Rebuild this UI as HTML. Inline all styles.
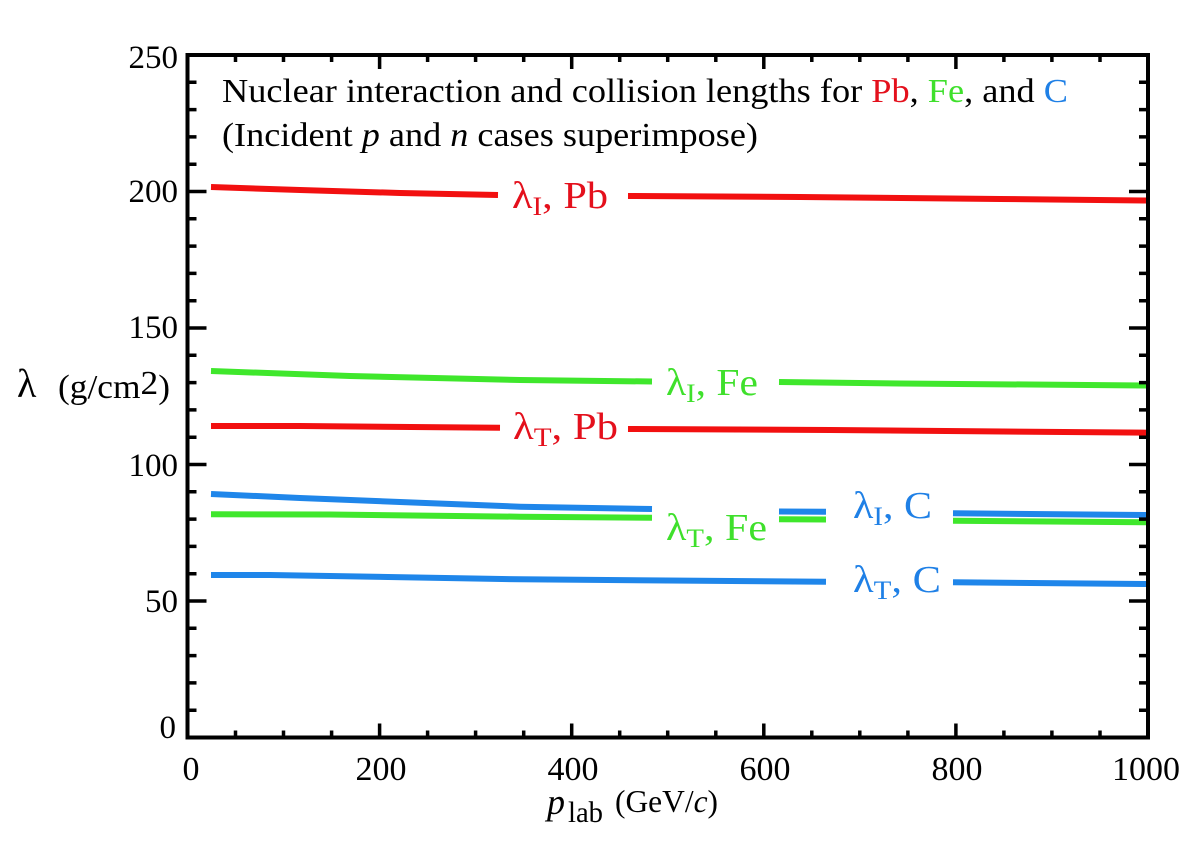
<!DOCTYPE html>
<html><head><meta charset="utf-8"><style>
html,body{margin:0;padding:0;background:#fff;}
svg{display:block;}
text{font-family:"Liberation Serif","DejaVu Serif",serif;}
</style></head><body>
<svg width="1203" height="843" viewBox="0 0 1203 843" xmlns="http://www.w3.org/2000/svg">
<rect width="1203" height="843" fill="#fff"/>

<!-- curves -->
<g fill="none" stroke-width="6" stroke-linejoin="round">
  <polyline stroke="#f21010" points="211,187 300,190 400,193 498,195"/>
  <polyline stroke="#f21010" points="628,196 800,197 1000,199 1148,200.5"/>
  <polyline stroke="#3fe72c" points="211,371 350,376 520,380 652,381.5"/>
  <polyline stroke="#3fe72c" points="779,382 900,383.5 1148,385.5"/>
  <polyline stroke="#f21010" points="211,426 300,426 500,427.7"/>
  <polyline stroke="#f21010" points="628,429 830,430 1148,432.7"/>
  <polyline stroke="#1f86ea" points="211,494 300,498 400,502 520,506.7 652,509"/>
  <polyline stroke="#1f86ea" points="779,511.5 826,511.8"/>
  <polyline stroke="#1f86ea" points="953,513.3 1148,515"/>
  <polyline stroke="#3fe72c" points="211,514.3 330,514.5 520,516.7 652,517.7"/>
  <polyline stroke="#3fe72c" points="779,519.3 826,519.5"/>
  <polyline stroke="#3fe72c" points="953,520.7 1148,522.3"/>
  <polyline stroke="#1f86ea" points="211,575 270,575 520,579.3 826,581.7"/>
  <polyline stroke="#1f86ea" points="953,582.3 1148,584"/>
</g>

<!-- frame -->
<rect x="187.5" y="55" width="960.5" height="682.5" fill="none" stroke="#000" stroke-width="4"/>

<!-- ticks -->
<g stroke="#000" stroke-width="3.5">
  <path d="M379.6,737.5v-14 M571.7,737.5v-14 M763.8,737.5v-14 M955.9,737.5v-14
           M379.6,55v14 M571.7,55v14 M763.8,55v14 M955.9,55v14"/>
  <path d="M235.5,737.5v-7 M283.5,737.5v-7 M331.6,737.5v-7 M427.6,737.5v-7 M475.6,737.5v-7 M523.7,737.5v-7
           M619.7,737.5v-7 M667.7,737.5v-7 M715.8,737.5v-7 M811.8,737.5v-7 M859.8,737.5v-7 M907.9,737.5v-7
           M1003.9,737.5v-7 M1051.9,737.5v-7 M1100,737.5v-7
           M235.5,55v7 M283.5,55v7 M331.6,55v7 M427.6,55v7 M475.6,55v7 M523.7,55v7
           M619.7,55v7 M667.7,55v7 M715.8,55v7 M811.8,55v7 M859.8,55v7 M907.9,55v7
           M1003.9,55v7 M1051.9,55v7 M1100,55v7"/>
  <path d="M187.5,601h19 M187.5,464.5h19 M187.5,328h19 M187.5,191.5h19
           M1148,601h-19 M1148,464.5h-19 M1148,328h-19 M1148,191.5h-19"/>
  <path d="M187.5,710.2h9 M187.5,682.9h9 M187.5,655.6h9 M187.5,628.3h9
           M187.5,573.7h9 M187.5,546.4h9 M187.5,519.1h9 M187.5,491.8h9
           M187.5,437.2h9 M187.5,409.9h9 M187.5,382.6h9 M187.5,355.3h9
           M187.5,300.7h9 M187.5,273.4h9 M187.5,246.1h9 M187.5,218.8h9
           M187.5,164.2h9 M187.5,136.9h9 M187.5,109.6h9 M187.5,82.3h9
           M1148,710.2h-9 M1148,682.9h-9 M1148,655.6h-9 M1148,628.3h-9
           M1148,573.7h-9 M1148,546.4h-9 M1148,519.1h-9 M1148,491.8h-9
           M1148,437.2h-9 M1148,409.9h-9 M1148,382.6h-9 M1148,355.3h-9
           M1148,300.7h-9 M1148,273.4h-9 M1148,246.1h-9 M1148,218.8h-9
           M1148,164.2h-9 M1148,136.9h-9 M1148,109.6h-9 M1148,82.3h-9"/>
</g>

<!-- y tick labels -->
<g font-size="33" text-anchor="end" fill="#000">
  <text x="178" y="68">250</text>
  <text x="178" y="202">200</text>
  <text x="178" y="338">150</text>
  <text x="178" y="476">100</text>
  <text x="178" y="612">50</text>
  <text x="176" y="738">0</text>
</g>

<!-- x tick labels -->
<g font-size="34" text-anchor="middle" fill="#000">
  <text x="191" y="780">0</text>
  <text x="381" y="780">200</text>
  <text x="573" y="780">400</text>
  <text x="765" y="780">600</text>
  <text x="957" y="780">800</text>
  <text x="1146" y="780">1000</text>
</g>

<!-- axis titles -->
<text x="547" y="814" font-size="36" font-style="italic">p</text>
<text x="568" y="822" font-size="30" textLength="35" lengthAdjust="spacingAndGlyphs">lab</text>
<text x="615" y="812" font-size="32" textLength="103" lengthAdjust="spacingAndGlyphs">(GeV/<tspan font-style="italic">c</tspan>)</text>

<text x="17" y="397" font-size="40">λ</text>
<text x="58" y="398" font-size="34" textLength="112" lengthAdjust="spacingAndGlyphs">(g/cm<tspan dy="-4">2</tspan><tspan dy="4">)</tspan></text>

<!-- title -->
<text x="222" y="102" font-size="34" textLength="846" lengthAdjust="spacingAndGlyphs">Nuclear interaction and collision lengths for <tspan fill="#e4101c">Pb</tspan>, <tspan fill="#3fe02c">Fe</tspan>, and <tspan fill="#1f80e6">C</tspan></text>
<text x="222" y="146" font-size="34" textLength="536" lengthAdjust="spacingAndGlyphs">(Incident <tspan font-style="italic">p</tspan> and <tspan font-style="italic">n</tspan> cases superimpose)</text>

<!-- curve labels -->
<g font-size="38">
  <text x="512" y="208" fill="#e4101c" textLength="96" lengthAdjust="spacingAndGlyphs">λ<tspan font-size="26" dy="7">I</tspan><tspan dy="-7">, Pb</tspan></text>
  <text x="513" y="439" fill="#e4101c" textLength="105" lengthAdjust="spacingAndGlyphs">λ<tspan font-size="26" dy="7">T</tspan><tspan dy="-7">, Pb</tspan></text>
  <text x="666" y="395" fill="#3fe02c" textLength="92" lengthAdjust="spacingAndGlyphs">λ<tspan font-size="26" dy="7">I</tspan><tspan dy="-7">, Fe</tspan></text>
  <text x="666" y="540" fill="#3fe02c" textLength="101" lengthAdjust="spacingAndGlyphs">λ<tspan font-size="26" dy="7">T</tspan><tspan dy="-7">, Fe</tspan></text>
  <text x="853" y="518" fill="#1f80e6" textLength="79" lengthAdjust="spacingAndGlyphs">λ<tspan font-size="26" dy="7">I</tspan><tspan dy="-7">, C</tspan></text>
  <text x="853" y="592" fill="#1f80e6" textLength="88" lengthAdjust="spacingAndGlyphs">λ<tspan font-size="26" dy="7">T</tspan><tspan dy="-7">, C</tspan></text>
</g>
</svg>
</body></html>
